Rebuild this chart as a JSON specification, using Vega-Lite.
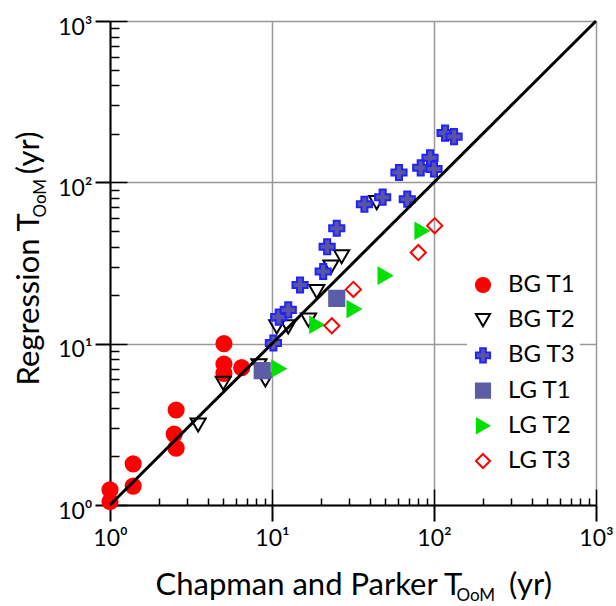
{
  "$schema": "https://vega.github.io/schema/vega-lite/v6.json",
  "width": 486,
  "height": 484,
  "autosize": {"type": "none"},
  "padding": {"left": 110, "top": 21, "right": 20, "bottom": 101},
  "background": "white",
  "config": {
    "view": {"stroke": null},
    "font": "Lato",
    "legend": {
      "orient": "none",
      "legendX": 357,
      "legendY": 248,
      "padding": 4,
      "fillColor": "white",
      "strokeColor": null,
      "labelFont": "Lato",
      "labelFontSize": 24,
      "labelColor": "black",
      "labelOffset": 13,
      "rowPadding": 11.2,
      "symbolSize": 200,
      "symbolStrokeWidth": 2
    }
  },
  "datasets": {
    "pts": [
      {"s": "BG T1", "x": 1.0, "y": 1.24},
      {"s": "BG T1", "x": 1.0, "y": 1.05},
      {"s": "BG T1", "x": 1.39, "y": 1.31},
      {"s": "BG T1", "x": 1.39, "y": 1.8},
      {"s": "BG T1", "x": 2.56, "y": 3.88},
      {"s": "BG T1", "x": 2.49, "y": 2.75},
      {"s": "BG T1", "x": 2.56, "y": 2.25},
      {"s": "BG T1", "x": 5.05, "y": 10.0},
      {"s": "BG T1", "x": 5.05, "y": 7.48},
      {"s": "BG T1", "x": 5.05, "y": 6.55},
      {"s": "BG T1", "x": 6.5, "y": 7.1},
      {"s": "BG T2", "x": 3.5, "y": 3.13},
      {"s": "BG T2", "x": 5.0, "y": 5.68},
      {"s": "BG T2", "x": 8.3, "y": 7.3},
      {"s": "BG T2", "x": 9.1, "y": 5.95},
      {"s": "BG T2", "x": 10.7, "y": 12.7},
      {"s": "BG T2", "x": 12.6, "y": 12.7},
      {"s": "BG T2", "x": 16.8, "y": 14.0},
      {"s": "BG T2", "x": 18.9, "y": 21.0},
      {"s": "BG T2", "x": 23.1, "y": 29.8},
      {"s": "BG T2", "x": 26.9, "y": 34.6},
      {"s": "BG T2", "x": 44.3, "y": 74.8},
      {"s": "BG T3", "x": 10.2, "y": 10.1},
      {"s": "BG T3", "x": 11.0, "y": 14.6},
      {"s": "BG T3", "x": 12.6, "y": 16.2},
      {"s": "BG T3", "x": 14.9, "y": 23.1},
      {"s": "BG T3", "x": 20.7, "y": 28.0},
      {"s": "BG T3", "x": 21.9, "y": 39.9},
      {"s": "BG T3", "x": 25.1, "y": 51.9},
      {"s": "BG T3", "x": 37.2, "y": 73.1},
      {"s": "BG T3", "x": 48.2, "y": 80.9},
      {"s": "BG T3", "x": 68.4, "y": 78.6},
      {"s": "BG T3", "x": 60.8, "y": 115},
      {"s": "BG T3", "x": 82.8, "y": 123},
      {"s": "BG T3", "x": 94.5, "y": 142},
      {"s": "BG T3", "x": 100, "y": 121},
      {"s": "BG T3", "x": 117, "y": 202},
      {"s": "BG T3", "x": 133, "y": 192},
      {"s": "LG T1", "x": 8.7, "y": 6.8},
      {"s": "LG T1", "x": 25.1, "y": 19.1},
      {"s": "LG T2", "x": 11.0, "y": 7.0},
      {"s": "LG T2", "x": 18.9, "y": 13.1},
      {"s": "LG T2", "x": 32.1, "y": 16.4},
      {"s": "LG T2", "x": 49.9, "y": 26.4},
      {"s": "LG T2", "x": 84.3, "y": 50.1},
      {"s": "LG T3", "x": 23.4, "y": 12.9},
      {"s": "LG T3", "x": 31.8, "y": 21.7},
      {"s": "LG T3", "x": 80.0, "y": 36.7},
      {"s": "LG T3", "x": 101, "y": 53.9}
    ],
    "line": [
      {"x": 1, "y": 1},
      {"x": 1000, "y": 1000}
    ]
  },
  "layer": [
    {
      "data": {"name": "pts"},
      "mark": {"type": "point", "size": 230, "strokeWidth": 2, "opacity": 1},
      "encoding": {
        "x": {
          "field": "x", "type": "quantitative",
          "scale": {"type": "log", "domain": [1, 1000], "nice": false},
          "axis": {
            "orient": "bottom",
            "values": [1, 10, 100, 1000],
            "labelExpr": "datum.value == 1 ? '10⁰' : datum.value == 10 ? '10¹' : datum.value == 100 ? '10²' : '10³'",
            "labelFont": "Lato", "labelFontSize": 23, "labelColor": "black", "labelPadding": 6,
            "labelFlush": false, "labelOverlap": false,
            "tickSize": 16, "tickWidth": 2, "tickColor": "black",
            "domainColor": "black", "domainWidth": 2,
            "grid": true, "gridColor": "#999999", "gridWidth": 1.5,
            "title": "Chapman and Parker T\u00a0\u00a0\u00a0\u00a0\u00a0\u00a0(yr)",
            "titleFont": "Lato", "titleFontSize": 31, "titleFontWeight": "normal", "titleColor": "black",
            "titleX": 45, "titleY": 89, "titleAlign": "left", "titleBaseline": "alphabetic"
          }
        },
        "y": {
          "field": "y", "type": "quantitative",
          "scale": {"type": "log", "domain": [1, 1000], "nice": false},
          "axis": {
            "orient": "left",
            "values": [1, 10, 100, 1000],
            "labelExpr": "datum.value == 1 ? '10⁰' : datum.value == 10 ? '10¹' : datum.value == 100 ? '10²' : '10³'",
            "labelFont": "Lato", "labelFontSize": 23, "labelColor": "black", "labelPadding": 3,
            "labelFlush": false, "labelOverlap": false, "labelOffset": 6,
            "tickSize": 15, "tickWidth": 2, "tickColor": "black",
            "domainColor": "black", "domainWidth": 2,
            "grid": true, "gridColor": "#999999", "gridWidth": 1.5,
            "title": "Regression T\u00a0\u00a0\u00a0\u00a0\u00a0(yr)",
            "titleFont": "Lato", "titleFontSize": 31, "titleFontWeight": "normal", "titleColor": "black",
            "titleAngle": -90,
            "titleX": -72, "titleY": 364, "titleAlign": "left", "titleBaseline": "alphabetic"
          }
        },
        "fill": {
          "field": "s", "type": "nominal",
          "scale": {"domain": ["BG T1", "BG T2", "BG T3", "LG T1", "LG T2", "LG T3"],
                    "range": ["#ff0000", "transparent", "#5a55a0", "#5b5ea6", "#00e000", "transparent"]},
          "legend": {"title": null}
        },
        "stroke": {
          "field": "s", "type": "nominal",
          "scale": {"domain": ["BG T1", "BG T2", "BG T3", "LG T1", "LG T2", "LG T3"],
                    "range": ["#ff0000", "#000000", "#2222ff", "#5b5ea6", "#00e000", "#ff0000"]},
          "legend": {"title": null}
        },
        "shape": {
          "field": "s", "type": "nominal",
          "scale": {"domain": ["BG T1", "BG T2", "BG T3", "LG T1", "LG T2", "LG T3"],
                    "range": ["circle", "triangle-down", "cross", "square", "triangle-right", "diamond"]},
          "legend": {"title": null}
        }
      }
    },
    {
      "data": {"name": "line"},
      "mark": {"type": "line", "color": "black", "strokeWidth": 3},
      "encoding": {
        "x": {
          "field": "x", "type": "quantitative",
          "axis": {
            "orient": "bottom",
            "values": [1, 2, 3, 4, 5, 6, 7, 8, 9, 10, 20, 30, 40, 50, 60, 70, 80, 90, 100, 200, 300, 400, 500, 600, 700, 800, 900, 1000],
            "labels": false, "domain": false, "grid": false,
            "tickColor": "black", "tickWidth": 1.5,
            "tickSize": {"condition": {"test": "indexof([1, 10, 100, 1000], datum.value) >= 0", "value": -16}, "value": -7},
            "title": "OoM",
            "titleFont": "Lato", "titleFontSize": 17, "titleFontWeight": "normal", "titleColor": "black",
            "titleX": 346, "titleY": 95, "titleAlign": "left", "titleBaseline": "alphabetic"
          }
        },
        "y": {
          "field": "y", "type": "quantitative",
          "axis": {
            "orient": "left",
            "values": [1, 2, 3, 4, 5, 6, 7, 8, 9, 10, 20, 30, 40, 50, 60, 70, 80, 90, 100, 200, 300, 400, 500, 600, 700, 800, 900, 1000],
            "labels": false, "domain": false, "grid": false,
            "tickColor": "black", "tickWidth": 1.5,
            "tickSize": {"condition": {"test": "indexof([1, 10, 100, 1000], datum.value) >= 0", "value": -17}, "value": -9},
            "title": "OoM",
            "titleFont": "Lato", "titleFontSize": 17, "titleFontWeight": "normal", "titleColor": "black",
            "titleAngle": -90,
            "titleX": -65, "titleY": 196, "titleAlign": "left", "titleBaseline": "alphabetic"
          }
        }
      }
    }
  ],
  "resolve": {"axis": {"x": "independent", "y": "independent"}}
}
